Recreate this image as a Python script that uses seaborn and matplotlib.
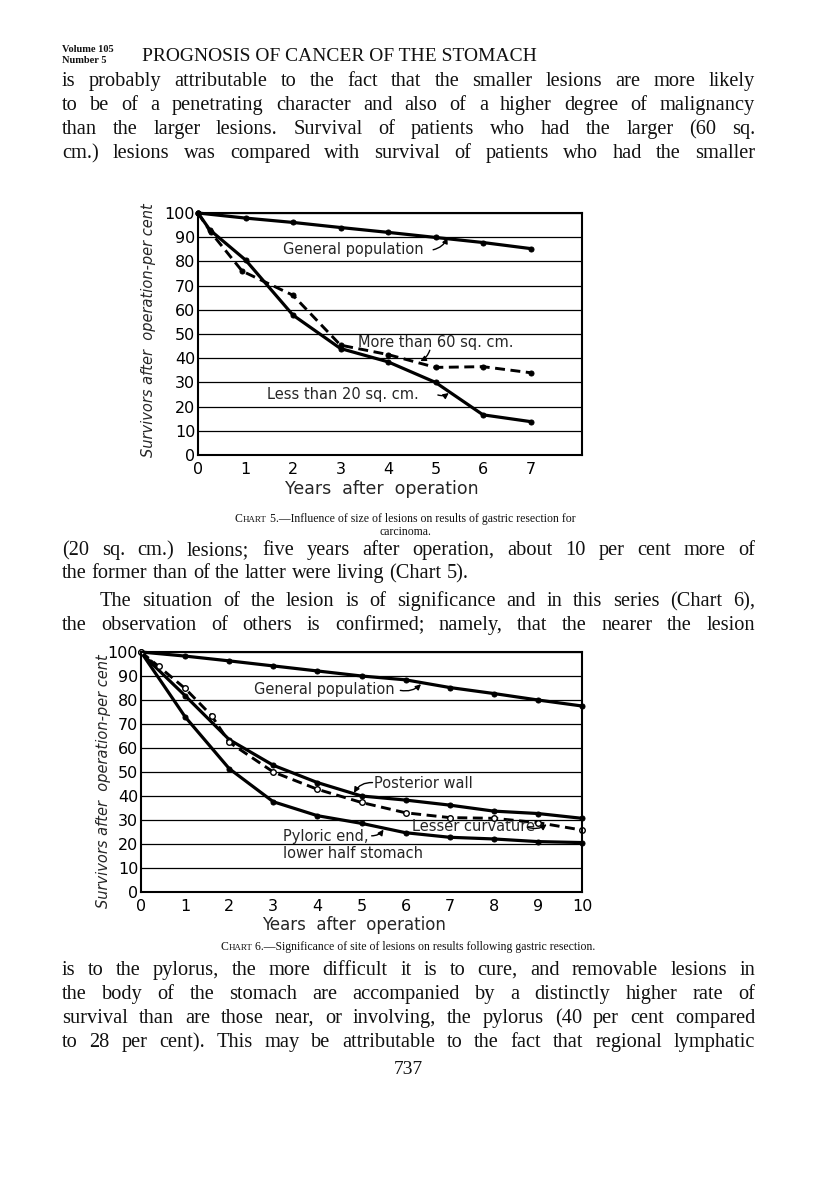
import matplotlib
matplotlib.use("Agg")
import matplotlib.pyplot as plt
import seaborn as sns

W, H = 816, 1177
SERIF = "Liberation Serif"

# Chart 5 -- survivors (per cent) by years after operation
c5_gen_years = [0, 1, 2, 3, 4, 5, 6, 7]
c5_general = [100, 97.9, 96.1, 94.0, 92.0, 89.9, 87.8, 85.3]
c5_small_years = [0, 0.25, 1, 2, 3, 4, 5, 6, 7]
c5_small = [100, 93.0, 80.6, 57.8, 44.0, 38.5, 30.0, 16.6, 13.8]
c5_large_years = [0, 0.27, 0.93, 2, 3, 4, 5, 6, 7]
c5_large = [100, 92.0, 76.0, 66.0, 45.4, 41.5, 36.2, 36.5, 34.0]

# Chart 6
c6_years = [0, 1, 2, 3, 4, 5, 6, 7, 8, 9, 10]
c6_general = [100, 98.3, 96.3, 94.2, 92.1, 90.0, 88.4, 85.2, 82.7, 80.0, 77.5]
c6_post_years = [0, 0.2, 1, 2, 3, 4, 5, 6, 7, 8, 9, 10]
c6_posterior = [100, 96.0, 81.8, 63.5, 52.8, 45.6, 40.0, 38.3, 36.2, 33.7, 32.7, 30.7]
c6_lesser_years = [0, 0.4, 1, 1.6, 2, 3, 4, 5, 6, 7, 8, 9, 10]
c6_lesser = [100, 94.0, 84.8, 73.5, 62.4, 50.0, 42.8, 37.3, 33.0, 31.0, 30.7, 28.9, 25.8]
c6_pyloric = [100, 73.0, 51.4, 37.6, 31.8, 28.6, 24.7, 22.8, 22.1, 21.0, 20.6]

para1 = [
    "is probably attributable to the fact that the smaller lesions are more likely",
    "to be of a penetrating character and also of a higher degree of malignancy",
    "than the larger lesions.  Survival of patients who had the larger (60 sq.",
    "cm.) lesions was compared with survival of patients who had the smaller",
]
para2 = [
    "(20 sq. cm.) lesions; five years after operation, about 10 per cent more of",
    "the former than of the latter were living (Chart 5).",
]
para3 = [
    "The situation of the lesion is of significance and in this series (Chart 6),",
    "the observation of others is confirmed; namely, that the nearer the lesion",
]
para4 = [
    "is to the pylorus, the more difficult it is to cure, and removable lesions in",
    "the body of the stomach are accompanied by a distinctly higher rate of",
    "survival than are those near, or involving, the pylorus (40 per cent compared",
    "to 28 per cent).  This may be attributable to the fact that regional lymphatic",
]

sns.set_theme(style="white")
plt.rcParams["font.family"] = ["DejaVu Sans"]

fig = plt.figure(figsize=(W / 100, H / 100), dpi=100)
fig.patch.set_facecolor("white")
renderer = fig.canvas.get_renderer()


def put(x, y, s, size, **kw):
    # x, y in page pixels measured from the top-left, baseline anchored
    kw.setdefault("family", SERIF)
    return fig.text(x / W, 1 - y / H, s, fontsize=size, va="baseline", ha="left", **kw)


def wid(t):
    return t.get_window_extent(renderer).width


def justify(y, line, size=14.7, x0=62, x1=755, full=True):
    words = line.split()
    arts = [put(0, y, w, size, color="#111") for w in words]
    ws = [wid(a) for a in arts]
    space = size * 100 / 72 * 0.25
    if full and len(words) > 1:
        space = (x1 - x0 - sum(ws)) / (len(words) - 1)
    x = x0
    for a, w in zip(arts, ws):
        a.set_x(x / W)
        x += w + space


def run_centered(cx, y, pieces):
    arts = [put(0, y, s, sz, color="#111") for s, sz in pieces]
    ws = [wid(a) for a in arts]
    x = cx - sum(ws) / 2
    for a, w in zip(arts, ws):
        a.set_x(x / W)
        x += w


# header
put(62, 52, "Volume 105", 7.5, weight="bold", color="#111")
put(62, 63, "Number 5", 7.5, weight="bold", color="#111")
put(142, 61, "PROGNOSIS OF CANCER OF THE STOMACH", 14, color="#111")

for i, ln in enumerate(para1):
    justify(86 + i * 24, ln)
justify(555, para2[0])
justify(578, para2[1], full=False)
justify(606, para3[0], x0=100)
justify(630, para3[1])
for i, ln in enumerate(para4):
    justify(975 + i * 24, ln)
run_centered(408, 1074, [("737", 14)])

run_centered(405, 522, [("C", 8.5), ("HART", 6.5),
                        (" 5.\u2014Influence of size of lesions on results of gastric resection for", 8.5)])
run_centered(405, 535, [("carcinoma.", 8.5)])
run_centered(408, 950, [("C", 8.5), ("HART", 6.5),
                        (" 6.\u2014Significance of site of lesions on results following gastric resection.", 8.5)])


def style_axes(ax, xmax, nticks, size):
    ax.set_xlim(0, xmax)
    ax.set_ylim(0, 100)
    ax.set_yticks(range(0, 101, 10))
    ax.set_xticks(range(0, nticks + 1))
    ax.yaxis.grid(True, color="black", lw=0.9)
    ax.xaxis.grid(False)
    for sp in ax.spines.values():
        sp.set_color("black")
        sp.set_linewidth(1.5)
    ax.tick_params(axis="x", direction="in", length=7, width=1.3, pad=5,
                   labelsize=size, colors="black")
    ax.tick_params(axis="y", length=0, pad=2, labelsize=size, colors="black")
    ax.set_xlabel("")
    ax.set_ylabel("")
    ax.set_facecolor("white")


solid = dict(color="black", lw=2.3, marker="o", markersize=3.6,
             markeredgecolor="black", errorbar=None, clip_on=False)
dashed = dict(solid, linestyle=(0, (3.4, 1.9)), lw=2.1)
arrow = dict(arrowstyle="-|>", color="black", lw=1.0, mutation_scale=8,
             connectionstyle="arc3,rad=0.25", shrinkA=0, shrinkB=0)

# ---------------- Chart 5 ----------------
ax1 = fig.add_axes([198 / W, 1 - 455 / H, 384 / W, 242 / H])
sns.lineplot(x=c5_gen_years, y=c5_general, ax=ax1, **solid)
sns.lineplot(x=c5_small_years, y=c5_small, ax=ax1, **solid)
sns.lineplot(x=c5_large_years, y=c5_large, ax=ax1, **dashed)
style_axes(ax1, 384 / 47.5, 7, 11.5)

ax1.text(1.79, 85, "General population", fontsize=10.5, va="center")
ax1.annotate("", xy=(5.25, 89.8), xytext=(4.95, 84.8), arrowprops=arrow)
ax1.text(3.37, 46.5, "More than 60 sq. cm.", fontsize=10.5, va="center")
ax1.annotate("", xy=(4.68, 38.8), xytext=(4.88, 43.3),
             arrowprops=dict(arrow, connectionstyle="arc3,rad=-0.2"))
ax1.text(1.45, 25, "Less than 20 sq. cm.", fontsize=10.5, va="center")
ax1.annotate("", xy=(5.28, 25.6), xytext=(5.05, 24.8), arrowprops=arrow)

fig.text(148 / W, 1 - 330 / H, "Survivors after  operation-per cent", rotation=90,
         fontsize=10.5, style="italic", ha="center", va="center")
fig.text(382 / W, 1 - 489 / H, "Years  after  operation", fontsize=12.5,
         ha="center", va="center")

# ---------------- Chart 6 ----------------
ax2 = fig.add_axes([141 / W, 1 - 892 / H, 441 / W, 240 / H])
sns.lineplot(x=c6_years, y=c6_general, ax=ax2, **solid)
sns.lineplot(x=c6_post_years, y=c6_posterior, ax=ax2, **solid)
sns.lineplot(x=c6_years, y=c6_pyloric, ax=ax2, **solid)
sns.lineplot(x=c6_lesser_years, y=c6_lesser, ax=ax2,
             **dict(dashed, markerfacecolor="white", markersize=4.0, markeredgewidth=1.0))
style_axes(ax2, 10, 10, 11.5)

ax2.text(2.57, 84.5, "General population", fontsize=10.5, va="center")
ax2.annotate("", xy=(6.35, 86.6), xytext=(5.88, 84.0), arrowprops=arrow)
ax2.text(5.28, 45.4, "Posterior wall", fontsize=10.5, va="center")
ax2.annotate("", xy=(4.83, 41.3), xytext=(5.25, 45.6),
             arrowprops=dict(arrow, connectionstyle="arc3,rad=0.3"))
ax2.text(6.14, 27.2, "Lesser curvature", fontsize=10.5, va="center")
ax2.annotate("", xy=(9.2, 28.2), xytext=(8.76, 27.0), arrowprops=arrow)
ax2.text(3.21, 23.1, "Pyloric end,", fontsize=10.5, va="center")
ax2.text(3.21, 16.2, "lower half stomach", fontsize=10.5, va="center")
ax2.annotate("", xy=(5.5, 26.0), xytext=(5.23, 23.4), arrowprops=arrow)

fig.text(104 / W, 1 - 781 / H, "Survivors after  operation-per cent", rotation=90,
         fontsize=10.5, style="italic", ha="center", va="center")
fig.text(354 / W, 1 - 925 / H, "Years  after  operation", fontsize=12,
         ha="center", va="center")

fig.savefig("out.png", dpi=100, facecolor="white")
